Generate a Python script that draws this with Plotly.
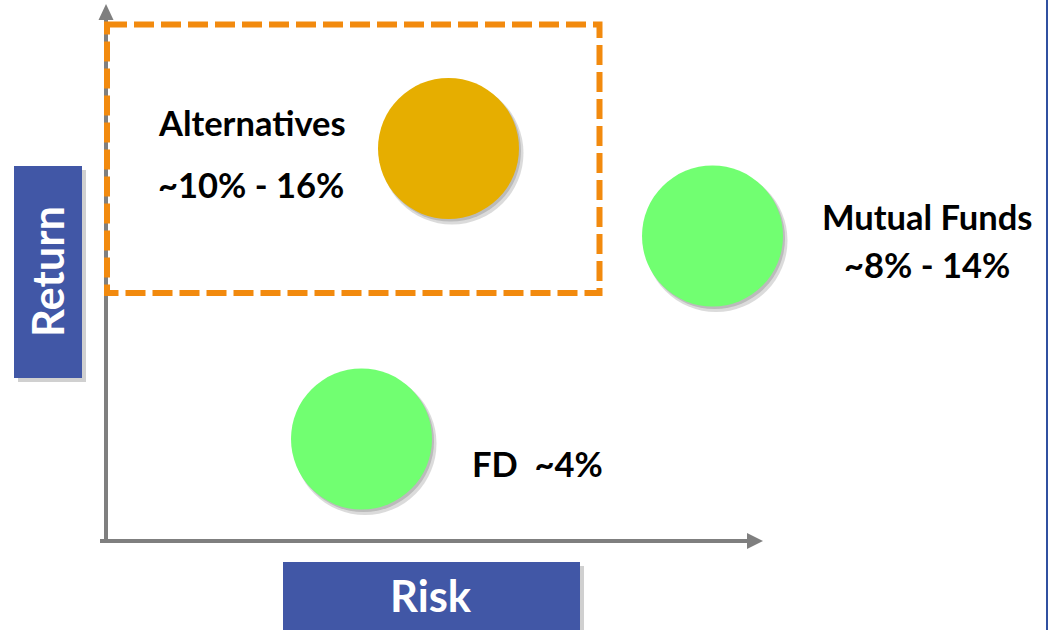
import plotly.graph_objects as go

# ---- data ----
assets = ["Alternatives", "Mutual Funds", "FD"]
risk = [4.485, 7.125, 3.615]          # horizontal position (risk)
ret = [4.815, 3.94, 1.91]             # vertical position (return)
return_labels = ["~10% - 16%", "~8% - 14%", "~4%"]
colors = ["#E6AE00", "#71FF71", "#71FF71"]

axis_x_label = "Risk"
axis_y_label = "Return"

W, H = 1050, 630
XR = [0, 10.5]
YR = [0, 6.3]

def px(xp):   # pixel x -> data x
    return xp / W * (XR[1] - XR[0]) + XR[0]

def py(yp):   # pixel y (from top) -> data y
    return (H - yp) / H * (YR[1] - YR[0]) + YR[0]

fig = go.Figure()

# circle shadows
fig.add_trace(go.Scatter(
    x=[r + 0.035 for r in risk], y=[v - 0.045 for v in ret], mode="markers",
    marker=dict(size=143, color="rgba(90,90,90,0.22)", line=dict(width=0)),
    hoverinfo="skip", showlegend=False))
fig.add_trace(go.Scatter(
    x=[r + 0.02 for r in risk], y=[v - 0.025 for v in ret], mode="markers",
    marker=dict(size=141, color="rgba(90,90,90,0.25)", line=dict(width=0)),
    hoverinfo="skip", showlegend=False))
# circles
fig.add_trace(go.Scatter(
    x=risk, y=ret, mode="markers", text=assets,
    marker=dict(size=141, color=colors, line=dict(width=0), opacity=1),
    showlegend=False))

shapes = []
gray = "#7F7F7F"
blue = "#4157A6"
orange = "#F28A0E"

# y axis line + arrow
shapes.append(dict(type="line", xref="x", yref="y", x0=px(106), x1=px(106), y0=py(543), y1=py(18),
                   line=dict(color=gray, width=4)))
shapes.append(dict(type="path", xref="x", yref="y",
                   path=f"M {px(98.5)} {py(20)} L {px(106)} {py(4)} L {px(113.5)} {py(20)} Z",
                   fillcolor=gray, line=dict(width=0)))
# x axis line + arrow
shapes.append(dict(type="line", xref="x", yref="y", x0=px(100), x1=px(750), y0=py(541), y1=py(541),
                   line=dict(color=gray, width=4)))
shapes.append(dict(type="path", xref="x", yref="y",
                   path=f"M {px(747)} {py(533)} L {px(763)} {py(541)} L {px(747)} {py(549)} Z",
                   fillcolor=gray, line=dict(width=0)))

# dashed highlight rectangle
shapes.append(dict(type="rect", xref="x", yref="y", x0=px(107), x1=px(599.5), y0=py(24.5), y1=py(293),
                   line=dict(color=orange, width=6, dash="20px,7px"), fillcolor="rgba(0,0,0,0)"))

# label boxes with shadows
for (x0, y0, x1, y1) in [(14, 166, 82, 378), (283, 562, 580, 640)]:
    shapes.append(dict(type="rect", xref="x", yref="y", x0=px(x0 + 4), x1=px(x1 + 4), y0=py(y0 + 4), y1=py(y1 + 4),
                       line=dict(width=0), fillcolor="rgba(120,120,120,0.35)", layer="below"))
    shapes.append(dict(type="rect", xref="x", yref="y", x0=px(x0), x1=px(x1), y0=py(y0), y1=py(y1),
                       line=dict(width=0), fillcolor=blue, layer="below"))

# right border
shapes.append(dict(type="line", xref="paper", yref="paper", x0=(1047) / W, x1=(1047) / W, y0=0, y1=1,
                   line=dict(color="#3050A0", width=2)))

font_lbl = dict(family="Lato, sans-serif", size=34.5, color="#000000", weight="bold")
font_box = dict(family="Lato, sans-serif", size=43.5, color="#FFFFFF", weight="bold")

ann = []
# Alternatives
ann.append(dict(x=risk[0], y=ret[0], text=assets[0], showarrow=False, xanchor="left", yanchor="middle",
                xshift=156 - 448.5, yshift=148.5 - 122, font=font_lbl))
ann.append(dict(x=risk[0], y=ret[0], text=return_labels[0], showarrow=False, xanchor="left", yanchor="middle",
                xshift=156 - 448.5, yshift=148.5 - 184, font=font_lbl))
# Mutual Funds
ann.append(dict(x=risk[1], y=ret[1], text=assets[1], showarrow=False, xanchor="center", yanchor="middle",
                xshift=927 - 712.5, yshift=236 - 216, font=font_lbl))
ann.append(dict(x=risk[1], y=ret[1], text=return_labels[1], showarrow=False, xanchor="center", yanchor="middle",
                xshift=927 - 712.5, yshift=236 - 264, font=font_lbl))
# FD
ann.append(dict(x=risk[2], y=ret[2], text=assets[2] + "&nbsp;&nbsp;" + return_labels[2], showarrow=False,
                xanchor="left", yanchor="middle",
                xshift=470 - 361.5, yshift=439 - 463, font=font_lbl))
# axis label boxes
ann.append(dict(x=px(47), y=py(272), text=axis_y_label, textangle=-90, showarrow=False,
                xanchor="center", yanchor="middle", font=font_box))
ann.append(dict(x=px(431), y=py(595), text=axis_x_label, showarrow=False,
                xanchor="center", yanchor="middle", font=font_box))

fig.update_layout(
    width=W, height=H, margin=dict(l=0, r=0, t=0, b=0),
    paper_bgcolor="white", plot_bgcolor="white",
    xaxis=dict(range=XR, visible=False, fixedrange=True),
    yaxis=dict(range=YR, visible=False, fixedrange=True),
    shapes=shapes, annotations=ann, showlegend=False,
)

fig.write_html("out.html")
